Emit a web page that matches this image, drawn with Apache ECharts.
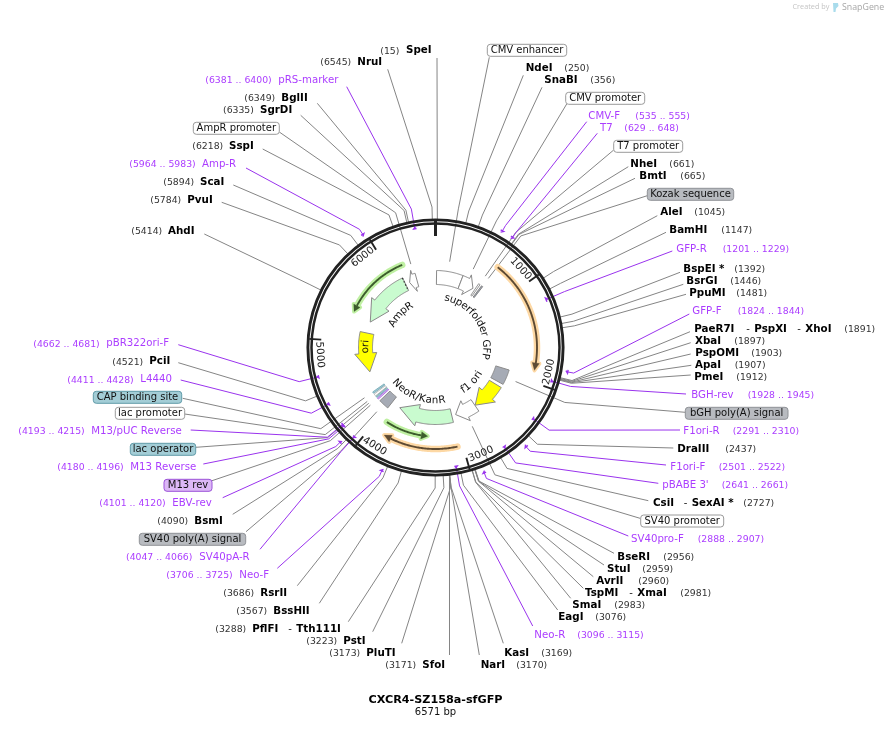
<!DOCTYPE html>
<html><head><meta charset="utf-8">
<style>html,body{margin:0;padding:0;background:#fff}#c{width:890px;height:749px}</style>
<script src="https://cdn.jsdelivr.net/npm/echarts@6/dist/echarts.min.js"></script>
</head><body><div id="c"></div>
<script>
// ---------- DATA ----------
const plasmidName = 'CXCR4-SZ158a-sfGFP';
const plasmidLength = 6571;
const tickValues = [1000,2000,3000,4000,5000,6000];

const enzymeNames = ['SpeI','NruI','BglII','SgrDI','SspI','ScaI','PvuI','AhdI','NdeI','SnaBI','NheI','BmtI','AleI','BamHI','BspEI *','BsrGI','PpuMI','PaeR7I - PspXI - XhoI','XbaI','PspOMI','ApaI','PmeI','DraIII','CsiI - SexAI *','BseRI','StuI','AvrII','TspMI - XmaI','SmaI','EagI','KasI','NarI','SfoI','PluTI','PstI','PflFI - Tth111I','BssHII','RsrII','BsmI','PciI'];
const enzymeSites = [15,6545,6349,6335,6218,5894,5784,5414,250,356,661,665,1045,1147,1392,1446,1481,1891,1897,1903,1907,1912,2437,2727,2956,2959,2960,2981,2983,3076,3169,3170,3171,3173,3223,3288,3567,3686,4090,4521];
const straightEnzymes = ['SpeI','SfoI'];

const primerNames = ['pRS-marker','Amp-R','CMV-F','T7','GFP-R','GFP-F','BGH-rev','F1ori-R','F1ori-F',"pBABE 3'",'SV40pro-F','Neo-R','Neo-F','SV40pA-R','EBV-rev','M13 Reverse','M13/pUC Reverse','L4440','pBR322ori-F'];
const primerStarts = [6381,5964,535,629,1201,1824,1928,2291,2501,2641,2888,3096,3706,4047,4101,4180,4193,4411,4662];
const primerEnds   = [6400,5983,555,648,1229,1844,1945,2310,2522,2661,2907,3115,3725,4066,4120,4196,4215,4428,4681];
const primerBottomStrand = [1,0,0,0,1,0,1,1,0,1,0,1,0,1,0,1,1,1,1];

const featureNames  = ['CMV enhancer','CMV promoter','T7 promoter','Kozak sequence','superfolder GFP','bGH poly(A) signal','f1 ori','SV40 promoter','NeoR/KanR','SV40 poly(A) signal','M13 rev','lac operator','lac promoter','CAP binding site','ori','AmpR','AmpR promoter'];
const featureStarts = [15,383,622,670,1195,1953,2215,2660,3040,3985,4160,4190,4218,4262,4557,5317,6175];
const featureEnds   = [383,590,645,690,1912,2165,2655,2981,3846,4130,4180,4210,4248,4284,5146,6110,6290];
const featureDirs   = [0,1,0,0,1,0,1,1,1,0,0,0,0,0,-1,-1,-1];
const featureKinds  = ['white','white','white','gray','sfgfp','gray','yellow','white','mint','gray','purple','teal','white','teal','yellow','mint','white'];
const featureLeaderSites = [171,469,637,683,null,2063,null,2829,null,4060,4170,4200,4229,4284,null,null,6270];

const orfStarts = [690,3057,3377,5363];
const orfEnds   = [1880,3840,3890,6170];
const orfDirs   = [1,1,-1,-1];
const orfKinds  = ['orange','orange','green','green'];

// ---------- LAYOUT (page pixels, on the hidden layout axes) ----------
const CENTER = [435.5,347.5];
// enzyme: [nameX, y, posX, anchorX, anchorY, ...x of extra "- Name" pieces]
const enzymeLayout = {
 'SpeI':[406,50.7,380.3,437,58],'NruI':[357.3,62.3,320.3,387.7,69.3],'BglII':[281.3,98.3,244.3,317.3,103.3],'SgrDI':[260,110.3,223,300.7,115.3],
 'SspI':[229,146.3,192.3,262.7,149],'ScaI':[200,182.3,163.3,233.3,185],'PvuI':[187.3,200.3,150.3,221.7,202.3],'AhdI':[168,231.3,131.3,204.3,234],
 'NdeI':[525.7,68.3,564.3,523.3,75.3],'SnaBI':[544.3,80.3,590.3,542,87.3],'NheI':[630.3,164.3,669.3,628.3,166.7],'BmtI':[639.3,176.3,680.3,635,178.3],
 'AleI':[660.3,212.3,694.3,657.3,215.7],'BamHI':[669.3,230.3,721.3,666,232.3],'BspEI *':[683.3,269.3,734.3,680,272.3],'BsrGI':[686.3,281.3,730.3,683.3,284.3],
 'PpuMI':[689.3,293.3,736.3,686,294.3],'PaeR7I - PspXI - XhoI':[694.3,329.3,844.3,690,331.7,746.3,797.3],'XbaI':[695,341.3,734.3,690.7,342.7],
 'PspOMI':[695.3,353.3,751.3,690.7,354],'ApaI':[695,365.3,734.7,691.3,365.3],'PmeI':[694.3,377.3,736.3,690.7,375],'DraIII':[677.3,449.3,725.3,673.3,448],
 'CsiI - SexAI *':[653,503,743.3,648.3,500.7,683.7],'BseRI':[617.3,557,663.3,614,553.3],'StuI':[607,569,642.3,604,565],'AvrII':[596.3,581,638.3,593.3,576.7],
 'TspMI - XmaI':[585,593,680.3,583.3,588.3,629.3],'SmaI':[572.3,605,614.3,570.7,598.3],'EagI':[558.3,617,595.3,557.7,610],'KasI':[504.3,653,541.3,503.3,643.3],
 'NarI':[480.7,665,516.3,479.3,655],'SfoI':[422.3,665,385.3,449.5,655],'PluTI':[366.3,653,329.3,401.7,643.3],'PstI':[343.3,641,306.3,372.7,631.7],
 'PflFI - Tth111I':[252.3,629,215.3,348.3,621.7,288.3],'BssHII':[273.3,611,236.3,319.3,603.3],'RsrII':[260.3,593,223.3,297.3,585.7],
 'BsmI':[194.3,521.3,157.3,232.7,514.3],'PciI':[149.3,361.7,112.3,178.3,362.7]
};
// primer: [nameX, y, posX, anchorX, anchorY]
const primerLayout = {
 'pRS-marker':[278.3,80.3,205.3,346.7,86.7],'Amp-R':[202,164.3,129.3,246,168],'CMV-F':[588.3,116.3,635.3,586.7,121.7],'T7':[600,128.3,624.3,597.3,133.3],
 'GFP-R':[676.3,249.3,722.7,672.3,251],'GFP-F':[692.3,311.3,737.7,689.3,314],'BGH-rev':[691.3,395.3,747.7,686,394],'F1ori-R':[683.3,431.3,732.7,680,430],
 'F1ori-F':[670.3,467,718.7,666,465],"pBABE 3'":[662.3,485,721.7,658.3,483.3],'SV40pro-F':[631,539,697.7,628.3,536],'Neo-R':[534.3,635,577.3,532.7,626],
 'Neo-F':[239.3,575,166.3,277.3,568.3],'SV40pA-R':[199.3,557,126,260,549.3],'EBV-rev':[172.3,503.3,99.3,222.7,497.7],'M13 Reverse':[130.3,467.3,57.3,203.3,464],
 'M13/pUC Reverse':[91.3,431.3,18.3,190.7,430],'L4440':[140.3,379.7,67.3,180.7,380],'pBR322ori-F':[106.3,343.7,33.3,178.3,344.7]
};
// boxed feature label: [x0, x1, y, anchorX, anchorY]
const featureLayout = {
 'CMV enhancer':[487.3,566.7,50.3,489.3,57.3],'CMV promoter':[565.7,644.7,98.3,566.7,104],'T7 promoter':[613.7,682.7,146.3,613.7,150],
 'Kozak sequence':[647.3,733.7,194.3,647.3,195.7],'bGH poly(A) signal':[685.3,788,413.3,685.3,412.3],'SV40 promoter':[640.7,723.7,521,640,518.3],
 'SV40 poly(A) signal':[139.3,245.7,539.3,246,531.7],'M13 rev':[164,212,485.3,212,480.7],'lac operator':[130.3,195.7,449.3,196,447.3],
 'lac promoter':[115.3,184.7,413.3,184.7,414],'CAP binding site':[93.3,181.7,397.3,182.7,398.3],'AmpR promoter':[193.3,279.3,128.3,279.3,132]
};
// labels drawn inside the ring: [text, centre radius, centre angle°]
const innerLabels = [['superfolder GFP',50.5,57],['NeoR/KanR',53,200.5],['f1 ori',50.8,133.8],['AmpR',48.7,313.5],['ori',70,270.7]];

const FILL = {white:'#ffffff',gray:'#a6abb5',sfgfp:'#08ee1e',yellow:'#ffff00',mint:'#c9fbcf',purple:'#d9b3f5',teal:'#a3cdd6'};
const BOX = {white:['#ffffff','#9a9a9a'],gray:['#b8bbc0','#8f9297'],teal:['#a3cdd6','#5f9aa8'],purple:['#dcb8f6','#9b52d8']};
const THIN_STROKE = {'M13 rev':'#9b52d8','lac operator':'#5f9aa8','lac promoter':'#a0a0a0','CAP binding site':'#5f9aa8','T7 promoter':'#666','Kozak sequence':'#666'};
const ORF = {orange:['#fdd8a4','#5d4a33'],green:['#bff0a2','#3c5c2c']};
const PURPLE_LINE='#9a33ee', PURPLE_TEXT='#ab3dff', GREY='#858585', INK='#222222';
const F_BOLD='bold 10.3px "DejaVu Sans"', F_POS='9.3px "DejaVu Sans"', F_FEAT='10px "DejaVu Sans"', F_NAME='10.2px "DejaVu Sans"', F_ARC='10.3px "DejaVu Sans"';
const HEAD={1:110,2:0,5:270,6:240,7:160,8:290,14:283,15:305,16:70};
const R_IN=63,R_OUT=77,R_BARB_IN=59,R_BARB_OUT=81,R_BEND=140.5;

// ---------- CHART ----------
const chart = echarts.init(document.getElementById('c'),null,{renderer:'canvas'});
const toPage = (x,y)=>chart.convertToPixel({gridIndex:0},[x,y]);
const rad = d=>d*Math.PI/180;
const bpOf = deg=>deg/360*plasmidLength;
const measureCtx = document.createElement('canvas').getContext('2d');

function arc(api,r,a,b,n){const p=[];n=n||Math.max(2,Math.ceil(Math.abs(b-a)/12));
  for(let i=0;i<=n;i++)p.push(api.coord([r,a+(b-a)*i/n]));return p;}

function featurePolygon(api,i){
  const s=featureStarts[i],e=featureEnds[i],d=featureDirs[i];
  if(d===0){return arc(api,R_OUT,s,e).concat(arc(api,R_IN,e,s));}
  const tail=d>0?s:e,tip=d>0?e:s,base=tip-d*HEAD[i];
  return arc(api,R_OUT,tail,base).concat([api.coord([R_BARB_OUT,base]),api.coord([(R_IN+R_OUT)/2,tip]),api.coord([R_BARB_IN,base])],arc(api,R_IN,base,tail));
}
function polarSeries(z,data,render){return {type:'custom',coordinateSystem:'polar',polarIndex:0,z,silent:true,clip:false,animation:false,data,renderItem:render};}
function pageSeries(z,data,render){return {type:'custom',coordinateSystem:'cartesian2d',xAxisIndex:0,yAxisIndex:0,z,silent:true,clip:false,animation:false,data,renderItem:render};}
const leaderLine=(pts,color)=>({type:'polyline',shape:{points:pts},style:{fill:'none',stroke:color,lineWidth:1}});

const enzymeLeaders=polarSeries(1,enzymeNames.map((n,i)=>[128,enzymeSites[i]]),(p,api)=>{
  const n=enzymeNames[p.dataIndex],b=enzymeSites[p.dataIndex],L=enzymeLayout[n];
  const pts=[toPage(L[3],L[4])];
  if(!straightEnzymes.includes(n))pts.push(api.coord([R_BEND,b]));
  pts.push(api.coord([128,b]));
  return leaderLine(pts,GREY);
});
const featureLeaders=polarSeries(1,featureNames.map((n,i)=>[87,featureLeaderSites[i]||0]),(p,api)=>{
  const i=p.dataIndex,b=featureLeaderSites[i];
  if(b===null)return null;
  const L=featureLayout[featureNames[i]];
  return leaderLine([toPage(L[3],L[4]),api.coord([R_BEND,b]),api.coord([87,b])],GREY);
});
const primerLeaders=polarSeries(2,primerNames.map((n,i)=>[128,(primerStarts[i]+primerEnds[i])/2]),(p,api)=>{
  const i=p.dataIndex,L=primerLayout[primerNames[i]],m=(primerStarts[i]+primerEnds[i])/2,r=primerBottomStrand[i]?121:134;
  return leaderLine([toPage(L[3],L[4]),api.coord([R_BEND,m]),api.coord([r,m])],PURPLE_LINE);
});
const ring=polarSeries(3,[[127.6,2.9],[124,2.5]],(p,api)=>{
  const c=api.coord([0,0]),q=api.coord([api.value(0),0]);
  return {type:'circle',shape:{cx:c[0],cy:c[1],r:Math.hypot(q[0]-c[0],q[1]-c[1])},style:{fill:'none',stroke:INK,lineWidth:api.value(1)}};
});
const primerMarks=polarSeries(4,primerNames.map((n,i)=>[128,primerStarts[i]]),(p,api)=>{
  const i=p.dataIndex,bot=primerBottomStrand[i],r=bot?120.5:134.5,s=primerStarts[i],e=primerEnds[i];
  const hookR=bot?r+2:r-2,tip=bot?s:e,back=bot?s+18:e-18;
  const pts=[api.coord([r,bot?e+6:s-6]),api.coord([r,tip]),api.coord([hookR,back])];
  return {type:'polyline',shape:{points:pts},style:{fill:'none',stroke:PURPLE_LINE,lineWidth:1.4}};
});
const ticks=polarSeries(5,[[126,0]].concat(tickValues.map(v=>[126,v])),(p,api)=>{
  const b=api.value(1),main=b===0;
  const a=api.coord([126.5,b]),c=api.coord([main?111.5:114.5,b]);
  return {type:'line',shape:{x1:a[0],y1:a[1],x2:c[0],y2:c[1]},style:{stroke:INK,lineWidth:main?3:1.9}};
});
const tickTexts=polarSeries(6,tickValues.map(v=>[116,v-bpOf(7.5)]),(p,api)=>{
  const b=api.value(1),deg=b/plasmidLength*360,q=api.coord([116,b]);
  const rot=(deg>90&&deg<270)?deg-180:deg;
  return {type:'text',x:q[0],y:q[1],rotation:-rad(rot),style:{text:String(tickValues[p.dataIndex]),font:F_ARC,fill:'#222',align:'center',verticalAlign:'middle'}};
});
const features=polarSeries(5,featureNames.map((n,i)=>[70,featureStarts[i]]),(p,api)=>{
  const i=p.dataIndex,thin=THIN_STROKE[featureNames[i]];
  return {type:'polygon',shape:{points:featurePolygon(api,i)},style:{fill:FILL[featureKinds[i]],stroke:thin||'#8a8a8a',lineWidth:thin?.7:1}};
});
const signalPeptide=polarSeries(6,[[70,6105]],(p,api)=>{
  const a=api.coord([R_OUT,api.value(1)]),c=api.coord([R_IN,api.value(1)]);
  return {type:'line',shape:{x1:a[0],y1:a[1],x2:c[0],y2:c[1]},style:{stroke:'#333',lineWidth:1.2,lineDash:[1.5,2]}};
});
const orfs=polarSeries(4,orfStarts.map((s,i)=>[100,s]),(p,api)=>{
  const i=p.dataIndex,r=orfKinds[i]==='orange'?101.5:89,col=ORF[orfKinds[i]],d=orfDirs[i];
  const tip=d>0?orfEnds[i]:orfStarts[i],tail=d>0?orfStarts[i]:orfEnds[i],base=tip-d*bpOf(4.2);
  const body=arc(api,r,tail,base);
  const head=[api.coord([r+3.6,base]),api.coord([r,tip]),api.coord([r-3.6,base])];
  return {type:'group',children:[
    {type:'polyline',shape:{points:body},style:{fill:'none',stroke:col[0],lineWidth:6.5,lineCap:'round'}},
    {type:'polygon',shape:{points:head},style:{fill:col[0],stroke:col[0],lineWidth:4,lineJoin:'round'}},
    {type:'polyline',shape:{points:body},style:{fill:'none',stroke:col[1],lineWidth:1.9}},
    {type:'polygon',shape:{points:head},style:{fill:col[1],stroke:col[1],lineWidth:.3}}
  ]};
});
const arcLabels=polarSeries(7,innerLabels.map(l=>[l[1],bpOf(l[2])]),(p,api)=>{
  const [text,r,deg]=innerLabels[p.dataIndex];
  const inward=deg>90&&deg<270;
  measureCtx.font=F_ARC;
  const total=measureCtx.measureText(text).width;
  const kids=[];let run=-total/2;
  for(const ch of text){
    const w=measureCtx.measureText(ch).width;
    const off=(run+w/2)/r*180/Math.PI;
    const a=inward?deg-off:deg+off;
    const q=api.coord([r,bpOf(((a%360)+360)%360)]);
    kids.push({type:'text',x:q[0],y:q[1],rotation:-rad(inward?a-180:a),style:{text:ch,font:F_ARC,fill:'#111',align:'center',verticalAlign:'middle'}});
    run+=w;
  }
  return {type:'group',children:kids};
});

const T=(x,y,text,font,fill,align)=>({type:'text',x,y,style:{text,font,fill,align:align||'left',verticalAlign:'middle'}});
const enzymeTexts=pageSeries(8,enzymeNames.map(n=>[enzymeLayout[n][0],enzymeLayout[n][1]]),(p,api)=>{
  const i=p.dataIndex,n=enzymeNames[i],L=enzymeLayout[n],parts=n.split(' - ');
  const q=api.coord([L[0],L[1]]),kids=[T(q[0],q[1],parts[0],F_BOLD,'#000')];
  parts.slice(1).forEach((t,k)=>{const x=L[5+k];
    kids.push(T(x,q[1],'-',F_FEAT,'#222'));kids.push(T(x+8,q[1],t,F_BOLD,'#000'));});
  kids.push(T(api.coord([L[2],L[1]])[0],q[1]+.5,'('+enzymeSites[i]+')',F_POS,'#333'));
  return {type:'group',children:kids};
});
const primerTexts=pageSeries(8,primerNames.map(n=>[primerLayout[n][0],primerLayout[n][1]]),(p,api)=>{
  const i=p.dataIndex,n=primerNames[i],L=primerLayout[n],q=api.coord([L[0],L[1]]);
  return {type:'group',children:[T(q[0],q[1],n,F_NAME,PURPLE_TEXT),
    T(api.coord([L[2],L[1]])[0],q[1]+.5,'('+primerStarts[i]+' .. '+primerEnds[i]+')',F_POS,PURPLE_TEXT)]};
});
const boxedNames=featureNames.filter(n=>featureLayout[n]);
const boxTexts=pageSeries(8,boxedNames.map(n=>[featureLayout[n][0],featureLayout[n][2]]),(p,api)=>{
  const n=boxedNames[p.dataIndex],L=featureLayout[n],k=featureKinds[featureNames.indexOf(n)],st=BOX[k];
  const a=api.coord([L[0],L[2]]),b=api.coord([L[1],L[2]]);
  return {type:'group',children:[
    {type:'rect',shape:{x:a[0],y:a[1]-6,width:b[0]-a[0],height:12,r:3},style:{fill:st[0],stroke:st[1],lineWidth:1}},
    T((a[0]+b[0])/2,a[1],n,F_FEAT,'#111','center')]};
});
const titleSeries=pageSeries(8,[[435.5,700],[435.5,712.5]],(p,api)=>{
  const q=api.coord([api.value(0),api.value(1)]);
  return p.dataIndex===0?T(q[0],q[1],plasmidName,'bold 11.2px "DejaVu Sans"','#000','center')
    :T(q[0],q[1],plasmidLength+' bp',F_FEAT,'#111','center');
});

chart.setOption({
  animation:false,backgroundColor:'#fff',tooltip:{show:false},
  grid:{left:0,top:0,width:890,height:749,show:false},
  xAxis:{type:'value',min:0,max:890,show:false},
  yAxis:{type:'value',min:0,max:749,inverse:true,show:false},
  polar:{center:CENTER,radius:500},
  radiusAxis:{type:'value',min:0,max:500,axisLine:{show:false},axisTick:{show:false},axisLabel:{show:false},splitLine:{show:false}},
  angleAxis:{type:'value',min:0,max:plasmidLength,startAngle:90,clockwise:true,axisLine:{show:false},axisTick:{show:false},axisLabel:{show:false},splitLine:{show:false}},
  graphic:[
    {type:'text',x:792.5,y:3.5,silent:true,style:{text:'Created by',font:'7.3px "Open Sans"',fill:'#c4c4c4'}},
    {type:'polygon',silent:true,shape:{points:[[833,3],[838,3],[838.5,6],[836,8.5],[835.5,12],[833.5,12]]},style:{fill:'#a9dcec'}},
    {type:'text',x:842,y:2.6,silent:true,style:{text:'SnapGene',font:'8.8px "Open Sans"',fill:'#a6a6a6'}}
  ],
  series:[enzymeLeaders,featureLeaders,primerLeaders,ring,orfs,primerMarks,features,ticks,tickTexts,signalPeptide,arcLabels,enzymeTexts,primerTexts,boxTexts,titleSeries]
});
</script></body></html>
